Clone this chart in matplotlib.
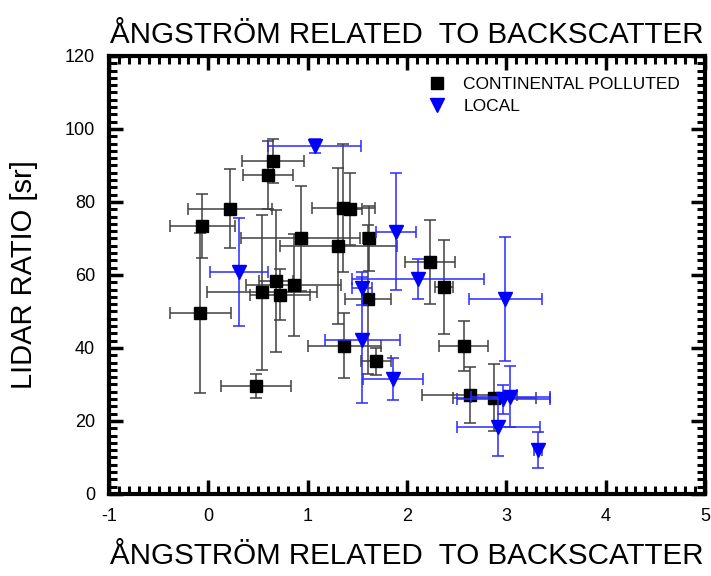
import numpy as np
import matplotlib
matplotlib.use("Agg")
import matplotlib.pyplot as plt
from matplotlib.ticker import MultipleLocator
from matplotlib.lines import Line2D

plt.rcParams["font.family"] = ["Liberation Sans", "DejaVu Sans"]
plt.rcParams["axes.unicode_minus"] = False

# continental polluted cases: Angstrom exponent vs lidar ratio, with uncertainties
cp_x = np.array([-0.06, -0.08, 0.22, 0.60, 0.65, 0.93, 1.31, 1.36, 1.43, 1.62,
                 0.54, 0.68, 0.72, 0.86, 0.48, 1.37, 1.61, 1.69, 2.23, 2.37,
                 2.57, 2.63, 2.88])
cp_y = np.array([73.4, 49.5, 78.2, 87.4, 91.2, 70.0, 68.0, 78.4, 78.1, 70.0,
                 55.3, 58.4, 54.6, 57.3, 29.6, 40.6, 53.3, 36.3, 63.6, 56.6,
                 40.6, 27.1, 26.4])
cp_xerr = np.array([0.33, 0.31, 0.42, 0.25, 0.31, 0.60, 0.59, 0.32, 0.12, 0.06,
                    0.55, 0.17, 0.30, 0.48, 0.35, 0.37, 0.23, 0.15, 0.25, 0.09,
                    0.25, 0.48, 0.42])
cp_yerr = np.array([8.8, 21.9, 10.7, 9.3, 6.1, 14.4, 21.4, 17.5, 9.8, 8.9,
                    21.2, 19.5, 7.0, 14.0, 3.2, 8.9, 20.3, 3.8, 11.6, 12.9,
                    6.8, 7.7, 9.1])

# local cases
lo_x = np.array([1.07, 0.31, 1.89, 1.55, 2.11, 1.55, 1.86, 2.99, 2.92, 2.97, 3.04, 3.32])
lo_y = np.array([95.4, 60.9, 71.9, 56.4, 59.0, 42.2, 31.5, 53.4, 18.3, 25.9, 26.7, 12.0])
lo_xerr = np.array([0.47, 0.29, 0.20, 0.10, 0.66, 0.38, 0.30, 0.37, 0.42, 0.47, 0.40, 0.04])
lo_yerr = np.array([1.9, 14.8, 16.0, 4.5, 5.5, 17.3, 5.8, 17.1, 7.9, 3.9, 8.4, 4.9])

title = "ÅNGSTRÖM RELATED  TO BACKSCATTER"

fig = plt.figure(figsize=(7.11, 5.76), dpi=100)
ax = fig.add_axes([0.1533, 0.1424, 0.8383, 0.7604])

ax.errorbar(cp_x, cp_y, xerr=cp_xerr, yerr=cp_yerr, fmt="s", color="black",
            ecolor="0.25", elinewidth=1.1, capsize=4.5, capthick=1.1,
            markersize=9, zorder=3)
ax.errorbar(lo_x, lo_y, xerr=lo_xerr, yerr=lo_yerr, fmt="v", color="#0000ff",
            ecolor="#2a2aff", elinewidth=1.1, capsize=4.5, capthick=1.1,
            markersize=10, zorder=4)

ax.set_xlim(-1, 5)
ax.set_ylim(0, 120)
ax.xaxis.set_major_locator(MultipleLocator(1))
ax.xaxis.set_minor_locator(MultipleLocator(0.1))
ax.yaxis.set_major_locator(MultipleLocator(20))
ax.yaxis.set_minor_locator(MultipleLocator(2))
ax.tick_params(which="both", direction="in", top=True, right=True,
               labelsize=13, pad=10)
ax.tick_params(which="major", length=10, width=2.5)
ax.tick_params(which="minor", length=5.5, width=2.2)
for sp in ax.spines.values():
    sp.set_linewidth(3)

ax.set_title(title, fontsize=21.3, pad=9)
ax.set_xlabel(title, fontsize=21.3, labelpad=12)
ax.set_ylabel("LIDAR RATIO [sr]", fontsize=21, labelpad=19)

handles = [
    Line2D([], [], marker="s", color="black", linestyle="none", markersize=9),
    Line2D([], [], marker="v", color="#0000ff", linestyle="none", markersize=10),
]
ax.legend(handles, ["CONTINENTAL POLLUTED", "LOCAL"], loc="upper left",
          bbox_to_anchor=(0.51, 0.968), frameon=False, fontsize=12.5,
          handletextpad=0.5, labelspacing=0.4, borderaxespad=0)

fig.savefig("out.png", dpi=100)
